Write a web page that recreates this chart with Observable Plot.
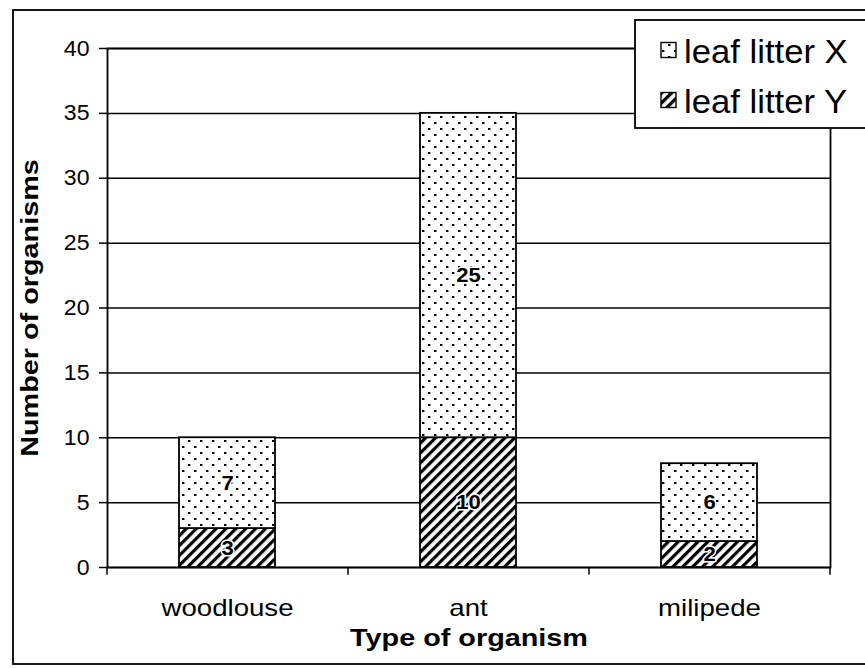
<!DOCTYPE html>
<html><head><meta charset="utf-8">
<script src="https://cdn.jsdelivr.net/npm/d3@7"></script>
<script src="https://cdn.jsdelivr.net/npm/@observablehq/plot@0.6"></script>
<style>
body{margin:0;background:#fff;}
svg{font-family:"Liberation Sans",Arial,sans-serif;}
</style>
</head><body><div id="chart"></div>
<script>
// ---- data ----
const categories = ["woodlouse", "ant", "milipede"];
const series = ["leaf litter X", "leaf litter Y"];
const leafLitterX = [7, 25, 6];
const leafLitterY = [3, 10, 2];
const yTicks = [0, 5, 10, 15, 20, 25, 30, 35, 40];
const xTitle = "Type of organism";
const yTitle = "Number of organisms";

const data = [];
categories.forEach((c, i) => {
  data.push({organism: c, series: series[1], value: leafLitterY[i]});
  data.push({organism: c, series: series[0], value: leafLitterX[i]});
});

const W = 865, H = 668, mL = 107, mR = 35, mT = 48, mB = 101;
const step = (W - mL - mR) / categories.length;
const font = '"Liberation Sans", Arial, sans-serif';

const plot = Plot.plot({
  width: W, height: H,
  marginLeft: mL, marginRight: mR, marginTop: mT, marginBottom: mB,
  style: {fontFamily: font, background: "white", color: "black", overflow: "visible"},
  x: {domain: categories, paddingInner: 0.6, paddingOuter: 0.3, axis: null, label: null},
  y: {domain: [0, 40], axis: null, label: null},
  color: {domain: series, range: ["url(#dots)", "url(#hatch)"]},
  marks: [
    Plot.gridY(yTicks, {stroke: "black", strokeOpacity: 1, strokeWidth: 1.5}),
    Plot.barY(data, {x: "organism", y: "value", fill: "series", stroke: "black", strokeWidth: 1.8, insetLeft: 0, insetRight: 0}),
    Plot.text(data, Plot.stackY({x: "organism", y: "value", z: "series", text: "value",
      fontSize: 21, fontWeight: "bold", fill: "black", stroke: "white", strokeWidth: 3, paintOrder: "stroke",
      ariaDescription: "data-labels"})),
    Plot.frame({stroke: "black", strokeWidth: 1.8}),
    Plot.axisY(yTicks, {tickSize: 8, tickPadding: 10, fontSize: 22, stroke: "black", strokeWidth: 1.5, fill: "black", label: null}),
    Plot.axisX({tickSize: 0, tickPadding: 31, fontSize: 24, fill: "black", label: null}),
    Plot.ruleX(categories, {x: d => d, dx: step / 2, y1: 0, y2: -0.6, stroke: "black", strokeWidth: 1.5}),
    Plot.ruleX([categories[0]], {x: d => d, dx: -step / 2, y1: 0, y2: -0.6, stroke: "black", strokeWidth: 1.5}),
    Plot.text([xTitle], {text: d => d, frameAnchor: "bottom", dy: 71, textAnchor: "middle", lineAnchor: "middle",
      fontSize: 24, fontWeight: "bold", fill: "black", ariaDescription: "x-title"}),
    Plot.text([yTitle], {text: d => d, frameAnchor: "left", dx: -77, rotate: -90, textAnchor: "middle", lineAnchor: "middle",
      fontSize: 24, fontWeight: "bold", fill: "black", ariaDescription: "y-title"})
  ]
});

document.getElementById("chart").appendChild(plot);
const svg = d3.select(plot);

// patterns
const defs = svg.insert("defs", ":first-child");
const dots = defs.append("pattern").attr("id", "dots").attr("patternUnits", "userSpaceOnUse")
  .attr("width", 12).attr("height", 12);
dots.append("rect").attr("width", 12).attr("height", 12).attr("fill", "white");
dots.append("rect").attr("x", 2).attr("y", 2).attr("width", 2.4).attr("height", 2).attr("fill", "black");
dots.append("rect").attr("x", 8).attr("y", 8).attr("width", 2.4).attr("height", 2).attr("fill", "black");
const hatch = defs.append("pattern").attr("id", "hatch").attr("patternUnits", "userSpaceOnUse")
  .attr("width", 7).attr("height", 7).attr("patternTransform", "rotate(45)");
hatch.append("rect").attr("width", 7).attr("height", 7).attr("fill", "white");
hatch.append("rect").attr("width", 3.2).attr("height", 7).attr("fill", "black");

// outer chart border
svg.append("rect").attr("x", 13).attr("y", 10).attr("width", 900).attr("height", 654)
  .attr("fill", "none").attr("stroke", "black").attr("stroke-width", 1.8);

// legend
const colorScale = plot.scale("color");
const lg = svg.append("g").attr("font-family", font).attr("text-anchor", "start");
lg.append("rect").attr("x", 635).attr("y", 20).attr("width", 300).attr("height", 108)
  .attr("fill", "white").attr("stroke", "black").attr("stroke-width", 1.8);
colorScale.domain.forEach((s, i) => {
  const cy = 50 + i * 50;
  lg.append("rect").attr("x", 661).attr("y", cy - 7.5).attr("width", 15).attr("height", 15)
    .attr("fill", colorScale.range[i]).attr("stroke", "black").attr("stroke-width", 1.4);
  lg.append("text").attr("class", "legend-text").attr("x", 684).attr("y", cy + 13)
    .attr("text-anchor", "start").attr("font-size", 33).attr("fill", "black").text(s);
});

// horizontal stretch of the scanned lettering
function stretch(sel, k) {
  sel.each(function () {
    const w = this.getComputedTextLength();
    if (w > 0) { this.setAttribute("textLength", w * k); this.setAttribute("lengthAdjust", "spacingAndGlyphs"); }
  });
}
stretch(svg.selectAll('g[aria-label="y-axis tick label"] text'), 1.05);
stretch(svg.selectAll('g[aria-label="x-axis tick label"] text'), 1.15);
stretch(svg.selectAll('g[aria-description="x-title"] text'), 1.2);
stretch(svg.selectAll('g[aria-description="y-title"] text'), 1.2);
stretch(svg.selectAll('g[aria-description="data-labels"] text'), 1.05);
stretch(svg.selectAll('text.legend-text'), 1.05);
</script>
</body></html>
